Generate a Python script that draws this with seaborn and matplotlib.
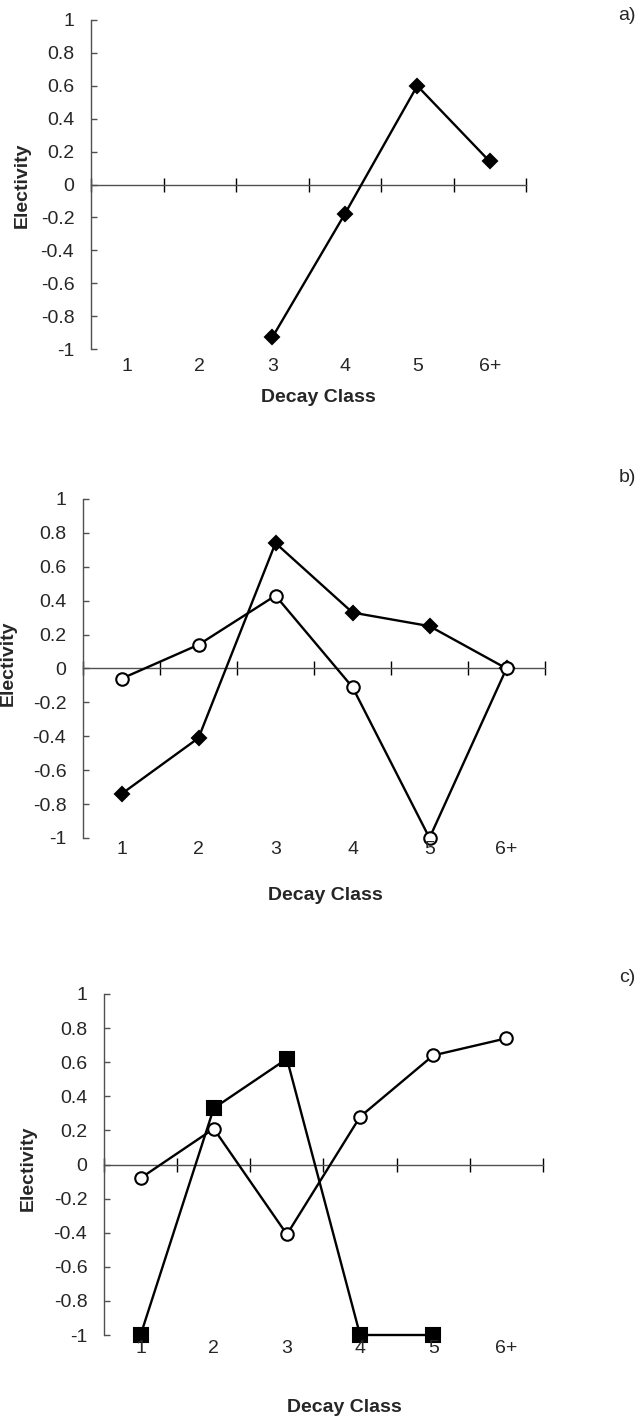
import numpy as np
import matplotlib
matplotlib.use("Agg")
import matplotlib.pyplot as plt
import seaborn as sns

# ---- data ----
categories = ["1", "2", "3", "4", "5", "6+"]
a_diamond = [np.nan, np.nan, -0.93, -0.18, 0.60, 0.14]
b_diamond = [-0.74, -0.41, 0.74, 0.33, 0.25, 0.00]
b_circle = [-0.06, 0.14, 0.43, -0.11, -1.00, 0.00]
c_square = [-1.00, 0.33, 0.62, -1.00, -1.00, np.nan]
c_circle = [-0.08, 0.21, -0.41, 0.28, 0.64, 0.74]
y_ticks = [-1, -0.8, -0.6, -0.4, -0.2, 0, 0.2, 0.4, 0.6, 0.8, 1]
panel_letters = ["a)", "b)", "c)"]
x_title = "Decay Class"
y_title = "Electivity"

sns.set_style("white")
plt.rcParams["font.family"] = ["Liberation Sans", "DejaVu Sans"]
plt.rcParams["axes.unicode_minus"] = False

W, H = 641, 1423
fig = plt.figure(figsize=(W / 100, H / 100), dpi=100)


def rect(l, r, t, b):
    return [l / W, 1 - b / H, (r - l) / W, (b - t) / H]


FS = 14
LW = 1.7

# panel geometry (pixels): left, right, top(y=1), bottom(y=-1)
geo = [(91, 526, 20, 349), (83, 545, 499, 838), (104, 543, 994, 1335)]
label_off = [12.7, 8.6, 9.4]  # points below the axes bottom for category labels
xtitle_pos = [(318, 397), (325, 895), (344, 1408)]
ytitle_pos = [(22, 185), (8, 663), (28, 1168)]
letter_pos = [(627, 16), (627, 478), (627, 978)]

series = [
    [(a_diamond, "D", "black", 7.5)],
    [(b_diamond, "D", "black", 7.5), (b_circle, "o", "white", 9.0)],
    [(c_square, "s", "black", 10.0), (c_circle, "o", "white", 9.0)],
]

for i in range(3):
    ax = fig.add_axes(rect(*geo[i]))
    for vals, mk, fc, ms in series[i]:
        sns.pointplot(
            x=categories, y=vals, order=categories, color="black",
            markers=mk, linestyles="-", errorbar=None, ax=ax,
            linewidth=LW, markersize=ms, markerfacecolor=fc,
            markeredgecolor="black", markeredgewidth=1.5,
            clip_on=False, zorder=3,
        )
    ax.set_xlim(-0.5, len(categories) - 0.5)
    ax.set_ylim(-1, 1)
    ax.set_xlabel("")
    ax.set_ylabel("")
    ax.set_yticks(y_ticks)
    ax.set_yticklabels([f"{v:g}" for v in y_ticks], fontsize=FS)
    ax.set_xticks(np.arange(-0.5, len(categories), 1.0))
    ax.set_xticklabels([])
    for s in ["top", "right"]:
        ax.spines[s].set_visible(False)
    ax.spines["bottom"].set_position(("data", 0))
    for s in ["bottom", "left"]:
        ax.spines[s].set_color("#505050")
        ax.spines[s].set_linewidth(1.0)
    ax.tick_params(axis="x", direction="inout", length=9.5, width=1,
                   color="black", bottom=True)
    ax.tick_params(axis="y", direction="in", length=4.5, width=1,
                   color="#505050", pad=12, left=True)
    ax.grid(False)
    for j, cat in enumerate(categories):
        ax.annotate(cat, xy=(j, 0), xycoords=("data", "axes fraction"),
                    xytext=(0, -label_off[i]), textcoords="offset points",
                    ha="center", va="center", fontsize=FS)
    fig.text(xtitle_pos[i][0] / W, 1 - xtitle_pos[i][1] / H, x_title,
             ha="center", va="center", fontsize=FS, fontweight="bold")
    fig.text(ytitle_pos[i][0] / W, 1 - ytitle_pos[i][1] / H, y_title,
             ha="center", va="center", fontsize=FS, fontweight="bold",
             rotation=90)
    fig.text(letter_pos[i][0] / W, 1 - letter_pos[i][1] / H, panel_letters[i],
             ha="center", va="center", fontsize=FS)

fig.savefig("out.png", dpi=100)
